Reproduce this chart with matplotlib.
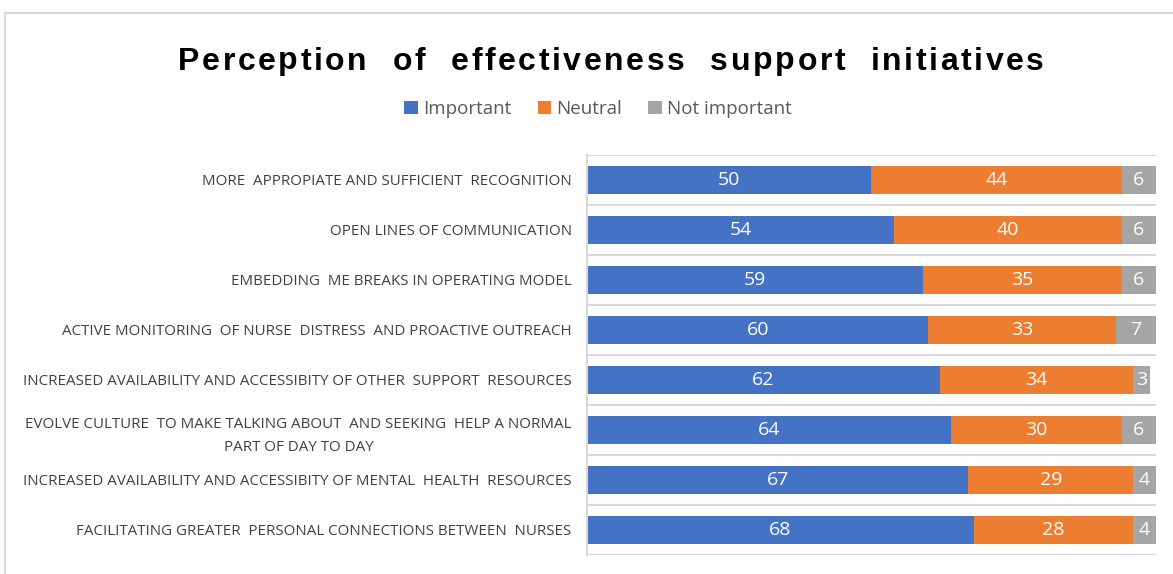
import matplotlib.pyplot as plt
from matplotlib.patches import Rectangle
from matplotlib.font_manager import FontProperties

# survey answers (percent), top row first
initiatives = [
    "MORE  APPROPIATE AND SUFFICIENT  RECOGNITION",
    "OPEN LINES OF COMMUNICATION",
    "EMBEDDING  ME BREAKS IN OPERATING MODEL",
    "ACTIVE MONITORING  OF NURSE  DISTRESS  AND PROACTIVE OUTREACH",
    "INCREASED AVAILABILITY AND ACCESSIBITY OF OTHER  SUPPORT  RESOURCES",
    "EVOLVE CULTURE  TO MAKE TALKING ABOUT  AND SEEKING  HELP A NORMAL\nPART OF DAY TO DAY",
    "INCREASED AVAILABILITY AND ACCESSIBITY OF MENTAL  HEALTH  RESOURCES",
    "FACILITATING GREATER  PERSONAL CONNECTIONS BETWEEN  NURSES",
]
important = [50, 54, 59, 60, 62, 64, 67, 68]
neutral = [44, 40, 35, 33, 34, 30, 29, 28]
not_important = [6, 6, 6, 7, 3, 6, 4, 4]

series = [("Important", important, "#4472C4"),
          ("Neutral", neutral, "#ED7D31"),
          ("Not important", not_important, "#A5A5A5")]

title = "Perception  of  effectiveness  support  initiatives"
txtfont = "Open Sans"

fig = plt.figure(figsize=(11.73, 5.74), dpi=100)
ax = fig.add_axes([0.5004, 0.0331, 0.4851, 0.6969])

# light frame around the chart area
fig.patches.append(Rectangle((0.0045, -0.01), 1.2, 0.988, transform=fig.transFigure,
                             fill=False, edgecolor="#D9D9D9", linewidth=1.5))

ypos = list(range(len(initiatives)))
left = [0] * len(initiatives)
for name, vals, col in series:
    bars = ax.barh(ypos, vals, left=left, height=0.56, color=col, label=name)
    for b, v in zip(bars, vals):
        ax.text(b.get_x() + b.get_width() / 2, b.get_y() + b.get_height() / 2, str(v),
                ha="center", va="center", color="white", fontsize=14, family=txtfont)
    left = [l + v for l, v in zip(left, vals)]

ax.set_xlim(0, 100)
ax.set_ylim(len(initiatives) - 0.5, -0.5)
ax.set_yticks(ypos)
ax.set_yticklabels(initiatives, fontsize=10.9, color="#404040", family=txtfont,
                   multialignment="center", linespacing=1.75)
ax.tick_params(axis="y", length=0, pad=11)
ax.set_xticks([])

# category separators
for k in range(len(initiatives) + 1):
    ax.axhline(k - 0.5, color="#D9D9D9", linewidth=1.5, zorder=0)
for s in ["top", "right", "bottom"]:
    ax.spines[s].set_visible(False)
ax.spines["left"].set_color("#D9D9D9")
ax.spines["left"].set_linewidth(1.5)

# title with extra letter spacing, placed one character at a time
tprop = FontProperties(family="Liberation Sans", weight="bold", size=23)
renderer = fig.canvas.get_renderer()


def text_w(s):
    w_ref = renderer.get_text_width_height_descent("l", tprop, ismath=False)[0]
    w = renderer.get_text_width_height_descent(s + "l", tprop, ismath=False)[0]
    return w - w_ref


title_width = 866
track = (title_width - text_w(title)) / (len(title) - 1)
x0 = 611 - title_width / 2
W, H = fig.get_size_inches() * fig.dpi
for i, ch in enumerate(title):
    if ch == " ":
        continue
    x = x0 + text_w(title[:i]) + track * i
    fig.text(x / W, 1 - 58 / H, ch, ha="left", va="center_baseline",
             fontproperties=tprop)

fig.legend(loc="center", bbox_to_anchor=(0.51, 0.81), ncol=3, frameon=False,
           handlelength=0.7, handleheight=0.7, handletextpad=0.3, columnspacing=1.4,
           prop={"family": txtfont, "size": 13.5}, labelcolor="#595959")

fig.savefig("out.png", dpi=100)
